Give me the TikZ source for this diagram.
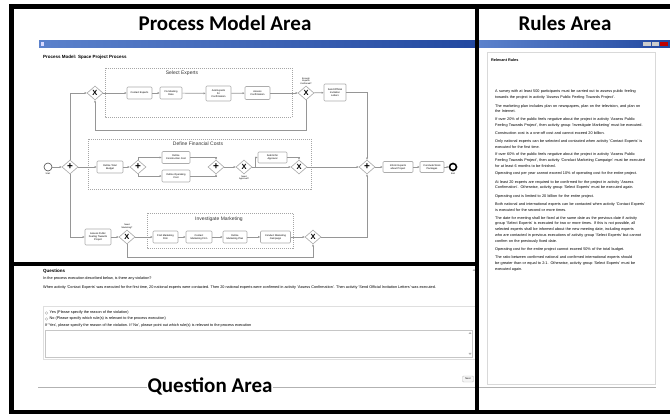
\documentclass[tikz,border=0pt]{standalone}
\usepackage{fontspec}
\setmainfont{Liberation Sans}
\newfontfamily\calibri{Carlito}
\usetikzlibrary{shapes.geometric,arrows.meta,positioning}
\definecolor{barblue}{RGB}{34,72,160}
\definecolor{barlight}{RGB}{92,130,204}
\definecolor{flowgray}{RGB}{150,150,150}
\hyphenpenalty=10000
\exhyphenpenalty=10000

\begin{document}
\begin{tikzpicture}[x=1pt,y=-1pt,
  task/.style={draw=gray!65, fill=white, rounded corners=1pt, line width=0.7pt, inner sep=0.5pt, align=center, font=\fontsize{2.5}{2.9}\selectfont},
  gw/.style={diamond, draw=gray!70, fill=white, line width=0.6pt, minimum width=16pt, minimum height=14pt, inner sep=0pt, font=\bfseries},
  flow/.style={draw=flowgray, line width=0.7pt, -{Latex[length=2pt,width=2.2pt]}},
  group/.style={draw=gray!70, dash pattern=on 1pt off 1pt, line width=0.5pt},
  grouptitle/.style={font=\fontsize{5}{6}\selectfont, text=black!80, inner sep=0pt},
  smalllabel/.style={font=\fontsize{2.2}{2.6}\selectfont, align=center, inner sep=0.5pt},
  frame/.style={line width=4.5pt, black},
  areatitle/.style={font=\calibri\bfseries\fontsize{21}{24}\selectfont, inner sep=0pt},
  rule/.style={anchor=north west, inner sep=0pt, text width=151pt, align=left, font=\fontsize{3.8}{5.7}\selectfont},
  qtext/.style={anchor=west, inner sep=0pt, font=\fontsize{3.8}{4.4}\selectfont},
]
\useasboundingbox (0,0) rectangle (670,414);

% window title bars
\shade[left color=barlight, right color=barblue] (39,41) rectangle (475,47.5);
\shade[left color=barlight, right color=barblue] (479,41) rectangle (670,47.5);
\fill[white!85!blue] (40.5,42.5) rectangle (44,46);
\fill[gray!40] (643,42) rectangle (651,46.5);
\fill[gray!40] (652,42) rectangle (659,46.5);
\fill[red!75!black] (660,42) rectangle (668,46.5);

\node[anchor=west, inner sep=0pt, font=\bfseries\fontsize{4.5}{5}\selectfont] (pmtitle) at (43,57) {Process Model: Space Project Process};

% groups
\draw[group] (105,68) rectangle (292,117);
\node[grouptitle] (selt) at (182,73) {Select Experts};
\draw[group] (88,139) rectangle (311,189);
\node[grouptitle] (fint) at (198,144) {Define Financial Costs};
\draw[group] (147,213) rectangle (293,248);
\node[grouptitle] (mktt) at (219,219) {Investigate Marketing};

% gateways
\foreach \n/\x/\y in {xorA/95/93, xorB/306/93, xorE/244/167, xorF/299/167, xorG/127/237, xorH/313/237}
  \node[gw] (\n) at (\x,\y) {\fontsize{7.5}{7.5}\selectfont X};
\foreach \n/\x/\y in {andA/70/167, andB/138/167, andD/216/167, andC/367/167}
  \node[gw] (\n) at (\x,\y) {\fontsize{10}{10}\selectfont +};

% tasks
\foreach \n/\x/\y/\w/\h/\txt in {
  ce/139.5/93/25/12/{Contact Experts},
  fmd/171/93/22/12/{Fix Meeting\\Date},
  aec/218.5/93.5/25/15/{Ask Experts\\for\\Confirmation},
  ac/257.5/93/25/13/{Assess\\Confirmation},
  soil/335/92.5/22/17/{Send Official\\Invitation\\Letters},
  dtb/110/167/26/12/{Define Total\\Budget},
  dcc/176/157.5/28/12/{Define\\Construction Cost},
  doc/176/176/28/12/{Define Operating\\Cost},
  sfa/272.5/157.5/29/11/{Submit for\\Approval},
  iea/398/167/30/11/{Inform Experts\\about Project},
  cwp/432/167/24/11/{Conclude Work\\Packages},
  apf/98/237/26/16/{Assess Public\\Feeling Towards\\Project},
  fmf/165.5/237/25/12/{Find Marketing\\Firm},
  cmf/199/237/26/12/{Contact\\Marketing Firm},
  dmp/235/237/24/12/{Define\\Marketing Plan},
  cmc/275.5/237/30/12/{Conduct Marketing\\Campaign}}
  \node[task, minimum width=\w, minimum height=\h] (\n) at (\x,\y) {\txt};

% events
\node[circle, draw=black!70, fill=white, line width=0.6pt, minimum size=8pt, inner sep=0pt] (start) at (48,167) {};
\node[circle, draw=black, fill=white, line width=1.6pt, minimum size=7pt, inner sep=0pt] (end) at (453,167) {};
\node[smalllabel, below=0.5pt of start] (startl) {Start};
\node[smalllabel, below=0.5pt of end] (endl) {End};
\node[smalllabel, above=0.5pt of xorB] (xorBl) {Enough\\Experts\\Confirmed?};
\node[smalllabel, below=0.5pt of xorE] (xorEl) {Need\\Approval?};
\node[smalllabel, above=0.5pt of xorG] (xorGl) {Need\\Marketing?};

% flows
\draw[flow] (start) -- (andA);
\draw[flow] (andA) |- (xorA);
\draw[flow] (andA) |- (apf);
\draw[flow] (xorA) -- (ce);
\draw[flow] (ce) -- (fmd);
\draw[flow] (fmd) -- (aec);
\draw[flow] (aec) -- (ac);
\draw[flow] (ac) -- (xorB);
\draw[flow] (xorB) -- (soil);
\draw[flow] (soil) -| (andC);
\draw[flow] (xorB.south) -- ++(0,30) -| (xorA.south);

\draw[flow] (andA) -- (dtb);
\draw[flow] (dtb) -- (andB);
\draw[flow] (andB) |- (dcc);
\draw[flow] (andB) |- (doc);
\draw[flow] (dcc) -| (andD);
\draw[flow] (doc) -| (andD);
\draw[flow] (andD) -- (xorE);
\draw[flow] (xorE.east) -- ++(3,0) |- (sfa);
\draw[flow] (xorE) -- (xorF);
\draw[flow] (sfa) -| (xorF);
\draw[flow] (xorF) -- (andC);
\draw[flow] (andC) -- (iea);
\draw[flow] (iea) -- (cwp);
\draw[flow] (cwp) -- (end);

\draw[flow] (apf) -- (xorG);
\draw[flow] (xorG) -- (fmf);
\draw[flow] (fmf) -- (cmf);
\draw[flow] (cmf) -- (dmp);
\draw[flow] (dmp) -- (cmc);
\draw[flow] (cmc) -- (xorH);
\draw[flow] (xorH) -| (andC);
\draw[flow] (xorG.south) -- ++(0,13) -| (xorH.south);

% rules panel
\draw[gray!30, line width=0.5pt] (487,52) rectangle (655,384);
\node[anchor=west, inner sep=0pt, font=\bfseries\fontsize{3.8}{4.5}\selectfont] (rulest) at (491,60) {Relevant Rules};
\node[rule] (r1) at (495,90) {A survey with at least 500 participants must be carried out to assess public feeling towards the project in activity 'Assess Public Feeling Towards Project'.};
\node[below=4.5pt of r1.south west, rule] (r2) {The marketing plan includes plan on newspapers, plan on the television, and plan on the Internet.};
\node[below=4.5pt of r2.south west, rule] (r3) {If over 20\% of the public feels negative about the project in activity 'Assess Public Feeling Towards Project', then activity group 'Investigate Marketing' must be executed.};
\node[below=4.5pt of r3.south west, rule] (r4) {Construction cost is a one-off cost and cannot exceed 20 billion.};
\node[below=4.5pt of r4.south west, rule] (r5) {Only national experts can be selected and contacted when activity 'Contact Experts' is executed for the first time.};
\node[below=4.5pt of r5.south west, rule] (r6) {If over 60\% of the public feels negative about the project in activity 'Assess Public Feeling Towards Project', then activity 'Conduct Marketing Campaign' must be executed for at least 6 months to be finished.};
\node[below=4.5pt of r6.south west, rule] (r7) {Operating cost per year cannot exceed 10\% of operating cost for the entire project.};
\node[below=4.5pt of r7.south west, rule] (r8) {At least 20 experts are required to be confirmed for the project in activity 'Assess Confirmation'. Otherwise, activity group 'Select Experts' must be executed again.};
\node[below=4.5pt of r8.south west, rule] (r9) {Operating cost is limited to 20 billion for the entire project.};
\node[below=4.5pt of r9.south west, rule] (r10) {Both national and international experts can be contacted when activity 'Contact Experts' is executed for the second or more times.};
\node[below=4.5pt of r10.south west, rule] (r11) {The date for meeting shall be fixed at the same date as the previous date if activity group 'Select Experts' is executed for two or more times. If this is not possible, all selected experts shall be informed about the new meeting date, including experts who are contacted in previous executions of activity group 'Select Experts' but cannot confirm on the previously fixed date.};
\node[below=4.5pt of r11.south west, rule] (r12) {Operating cost for the entire project cannot exceed 50\% of the total budget.};
\node[below=4.5pt of r12.south west, rule] (r13) {The ratio between confirmed national and confirmed international experts should be greater than or equal to 2:1. Otherwise, activity group 'Select Experts' must be executed again.};

% question panel
\node[anchor=west, inner sep=0pt, font=\bfseries\fontsize{4.5}{5}\selectfont] (qt) at (43,271) {Questions};
\node[qtext] (q1) at (43,279) {In the process execution described below, is there any violation?};
\node[qtext] (q2) at (43,288) {When activity 'Contact Experts' was executed for the first time, 20 national experts were contacted. Then 20 national experts were confirmed in activity 'Assess Confirmation'. Then activity 'Send Official Invitation Letters' was executed.};
\fill[gray!60] (472.5,271) -- (475.5,271) -- (474,269) -- cycle;
\draw[gray!25, line width=0.5pt] (43,306) rectangle (475,359);
\draw[gray!60, line width=0.3pt] (46.5,313) circle (1.3pt);
\draw[gray!60, line width=0.3pt] (46.5,319) circle (1.3pt);
\node[qtext] (ayes) at (49.5,313) {Yes (Please specify the reason of the violation)};
\node[qtext] (ano) at (49.5,319) {No (Please specify which rule(s) is relevant to the process execution)};
\node[qtext] (ahint) at (45,326) {If 'Yes', please specify the reason of the violation. If 'No', please point out which rule(s) is relevant to the process execution};
\draw[gray!45, line width=0.5pt] (45,330) rectangle (472,357);
\fill[gray!60] (468.5,334) -- (471.5,334) -- (470,332) -- cycle;
\fill[gray!60] (468.5,353) -- (471.5,353) -- (470,355) -- cycle;
\node[draw=gray!50, fill=gray!8, rounded corners=1pt, inner sep=0pt, minimum width=11pt, minimum height=6pt, font=\fontsize{2.5}{3}\selectfont] (next) at (468,379) {Next};
\draw[gray!60, line width=0.6pt] (38,387) -- (475,387);
\draw[gray!60, line width=0.6pt] (479,387) -- (656,387);

% area frames
\draw[frame] (11.5,6.5) -- (11.5,412);
\draw[frame] (9.25,6.5) -- (670,6.5);
\draw[frame] (9.25,412) -- (670,412);
\draw[frame] (477,6.5) -- (477,412);
\draw[frame] (11.5,264) -- (477,264);

\node[areatitle] (pma) at (225,23) {Process Model Area};
\node[areatitle] (ra) at (565,23) {Rules Area};
\node[areatitle, fill=white, inner xsep=1pt] (qa) at (210,386) {Question Area};

\end{tikzpicture}
\end{document}
